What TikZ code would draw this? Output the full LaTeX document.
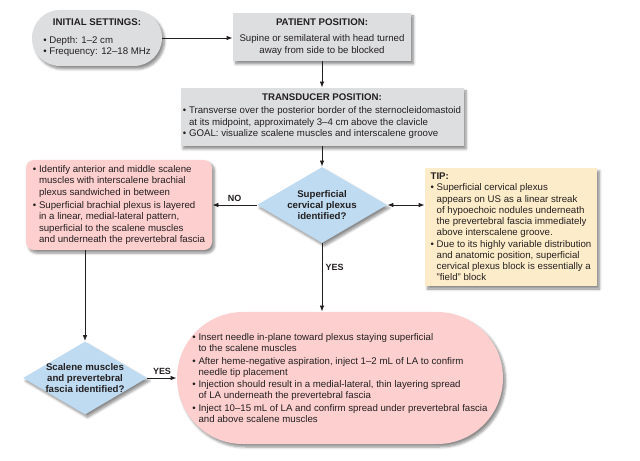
\documentclass[tikz,border=0pt]{standalone}
\usepackage{fontspec}
\setmainfont{Liberation Sans}
\usepackage{xcolor}
\usepackage{tikz}
\usetikzlibrary{shapes, shadows, shadows.blur, arrows.meta, calc}
\definecolor{boxgrey}{RGB}{221,222,224}
\definecolor{boxpink}{RGB}{253,207,207}
\definecolor{boxblue}{RGB}{190,219,242}
\definecolor{boxtip}{RGB}{253,236,201}
\definecolor{ink}{RGB}{35,31,32}
\tikzstyle{card}=[rectangle, inner sep=0, text=ink, font=\fontsize{9.7}{11.3}\selectfont, blur shadow={shadow xshift=2.5bp, shadow yshift=-3bp, shadow blur steps=6, shadow blur radius=2.5bp, shadow opacity=45}]
\tikzstyle{greybox}=[card, fill=boxgrey, align=center]
\tikzstyle{pinkbox}=[card, fill=boxpink, align=left]
\tikzstyle{tipbox}=[card, fill=boxtip, align=left]
\tikzstyle{question}=[card, diamond, aspect=1.7, inner sep=-3bp, fill=boxblue, align=center, font=\fontsize{9.7}{11.4}\selectfont\bfseries]
\tikzstyle{answer}=[font=\fontsize{9}{10}\selectfont\bfseries, text=ink]
\newcommand{\bul}{\textbullet\ }
\newcommand{\ind}{\phantom{\textbullet\ }}

\begin{document}
\begin{tikzpicture}[x=1bp, y=-1bp, line width=0.8bp, draw=ink, >={Latex[length=6bp, width=4.5bp]}]
\useasboundingbox (0,0) rectangle (640,461);
% boxes
\node[greybox, rounded corners=28bp, minimum width=130bp, minimum height=56bp] (init) at (97,38) {\textbf{INITIAL SETTINGS:}\\[9bp]\begin{tabular}{@{}l@{}}\bul Depth: 1--2 cm\\ \bul Frequency: 12--18 MHz\end{tabular}};
\node[greybox, minimum width=178bp, minimum height=48bp] (patient) at (322,37) {\textbf{PATIENT POSITION:}\\[5bp]Supine or semilateral with head turned\\away from side to be blocked};
\node[greybox, minimum width=283bp, minimum height=58bp] (trans) at (322,117) {\textbf{TRANSDUCER POSITION:}\\[4bp]\begin{tabular}{@{}l@{}}\bul Transverse over the posterior border of the sternocleidomastoid\\ \ind at its midpoint, approximately 3--4 cm above the clavicle\\ \bul GOAL: visualize scalene muscles and interscalene groove\end{tabular}};
\node[question, minimum width=130bp, minimum height=76bp] (plexus) at (322,205) {Superficial\\cervical plexus\\identified?};
\node[pinkbox, rounded corners=8bp, minimum width=186bp, minimum height=90bp] (scalene) at (119,205) {\bul Identify anterior and middle scalene\\ \ind muscles with interscalene brachial\\ \ind plexus sandwiched in between\\[2bp] \bul Superficial brachial plexus is layered\\ \ind in a linear, medial-lateral pattern,\\ \ind superficial to the scalene muscles\\ \ind and underneath the prevertebral fascia};
\node[tipbox, minimum width=172bp, minimum height=118bp] (tip) at (511,227) {\textbf{TIP:}\\ \bul Superficial cervical plexus\\ \ind appears on US as a linear streak\\ \ind of hypoechoic nodules underneath\\ \ind the prevertebral fascia immediately\\ \ind above interscalene groove.\\ \bul Due to its highly variable distribution\\ \ind and anatomic position, superficial\\ \ind cervical plexus block is essentially a\\ \ind "field" block};
\node[question, minimum width=124bp, minimum height=73bp] (fascia) at (85,378) {Scalene muscles\\and prevertebral\\fascia identified?};
\node[pinkbox, rounded corners=66bp, minimum width=326bp, minimum height=132bp] (inject) at (340,378) {\bul Insert needle in-plane toward plexus staying superficial\\ \ind to the scalene muscles\\[1bp] \bul After heme-negative aspiration, inject 1--2 mL of LA to confirm\\ \ind needle tip placement\\[1bp] \bul Injection should result in a medial-lateral, thin layering spread\\ \ind of LA underneath the prevertebral fascia\\[1bp] \bul Inject 10--15 mL of LA and confirm spread under prevertebral fascia\\ \ind and above scalene muscles};
% connectors
\draw[->] (init.east) -- (init.east -| patient.west);
\draw[->] (patient) -- (trans);
\draw[->] (trans.south) -- (plexus.north);
\draw[->] (plexus.west) -- (scalene.east) node[answer, midway, above]{NO};
\draw[<->] (plexus.east) -- (plexus.east -| tip.west);
\draw[->] (plexus.south) -- (plexus.south |- inject.north) node[answer, pos=0.35, right]{YES};
\draw[->] (fascia.north |- scalene.south) -- (fascia.north);
\draw[->] (fascia.east) -- (fascia.east -| inject.west) node[answer, midway, above]{YES};
\end{tikzpicture}
\end{document}
